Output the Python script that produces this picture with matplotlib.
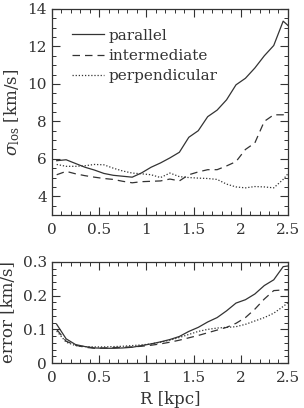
import matplotlib
matplotlib.use("Agg")
import matplotlib.pyplot as plt
from matplotlib.ticker import MultipleLocator

plt.rcParams['font.family'] = 'DejaVu Serif'
plt.rcParams['mathtext.fontset'] = 'dejavuserif'

# radius bins (kpc)
R = [0.05, 0.15, 0.25, 0.35, 0.45, 0.55, 0.65, 0.75, 0.85, 0.95,
     1.05, 1.15, 1.25, 1.35, 1.45, 1.55, 1.65, 1.75, 1.85, 1.95,
     2.05, 2.15, 2.25, 2.35, 2.45, 2.55]

# line-of-sight dispersion
sig_par = [5.9, 5.95, 5.75, 5.55, 5.4, 5.22, 5.12, 5.07, 5.02, 5.25,
           5.55, 5.78, 6.05, 6.35, 7.15, 7.5, 8.25, 8.6, 9.15, 9.95,
           10.3, 10.85, 11.5, 12.05, 13.35, 12.9]
sig_int = [5.15, 5.33, 5.2, 5.1, 5.02, 4.95, 4.9, 4.8, 4.72, 4.78,
           4.8, 4.82, 4.92, 4.82, 5.15, 5.3, 5.42, 5.42, 5.62, 5.85,
           6.5, 6.85, 8.0, 8.35, 8.35, 8.6]
sig_perp = [5.7, 5.6, 5.6, 5.63, 5.7, 5.68, 5.5, 5.35, 5.24, 5.2,
            5.15, 5.0, 5.24, 5.05, 5.0, 4.97, 4.95, 4.9, 4.65, 4.5,
            4.45, 4.52, 4.5, 4.45, 4.9, 5.5]

# errors
err_par = [0.115, 0.072, 0.055, 0.049, 0.045, 0.044, 0.044, 0.045, 0.047, 0.052,
           0.057, 0.063, 0.07, 0.079, 0.094, 0.106, 0.122, 0.135, 0.155, 0.178,
           0.188, 0.205, 0.23, 0.247, 0.286, 0.29]
err_int = [0.1, 0.065, 0.053, 0.047, 0.044, 0.045, 0.046, 0.047, 0.048, 0.05,
           0.053, 0.057, 0.062, 0.068, 0.075, 0.082, 0.09, 0.098, 0.106, 0.118,
           0.135, 0.16, 0.19, 0.215, 0.217, 0.217]
err_perp = [0.095, 0.062, 0.052, 0.049, 0.048, 0.048, 0.049, 0.05, 0.052, 0.054,
            0.057, 0.062, 0.068, 0.076, 0.085, 0.094, 0.1, 0.104, 0.106, 0.108,
            0.115, 0.125, 0.135, 0.148, 0.168, 0.19]

labels = ['parallel', 'intermediate', 'perpendicular']
styles = ['-', (0, (6, 4)), (0, (1, 1.5))]
col = '#333333'

fig = plt.figure(figsize=(3.04, 4.08), dpi=100)
ax1 = fig.add_axes([0.171, 0.473, 0.776, 0.505])
ax2 = fig.add_axes([0.171, 0.110, 0.776, 0.248])

for ys, ls, lab in zip([sig_par, sig_int, sig_perp], styles, labels):
    ax1.plot(R, ys, ls=ls, color=col, lw=0.9, label=lab)
for ys, ls in zip([err_par, err_int, err_perp], styles):
    ax2.plot(R, ys, ls=ls, color=col, lw=0.9)

ax1.set_xlim(0, 2.5)
ax1.set_ylim(3, 14)
ax2.set_xlim(0, 2.5)
ax2.set_ylim(0, 0.3)

ax1.set_xticks([0, 0.5, 1, 1.5, 2, 2.5])
ax1.set_xticklabels(['0', '0.5', '1', '1.5', '2', '2.5'])
ax2.set_xticks([0, 0.5, 1, 1.5, 2, 2.5])
ax2.set_xticklabels(['0', '0.5', '1', '1.5', '2', '2.5'])
ax1.set_yticks([4, 6, 8, 10, 12, 14])
ax2.set_yticks([0, 0.1, 0.2, 0.3])
ax2.set_yticklabels(['0', '0.1', '0.2', '0.3'])

ax1.xaxis.set_minor_locator(MultipleLocator(0.1))
ax2.xaxis.set_minor_locator(MultipleLocator(0.1))
ax1.yaxis.set_minor_locator(MultipleLocator(0.5))
ax2.yaxis.set_minor_locator(MultipleLocator(0.02))

for ax in [ax1, ax2]:
    ax.tick_params(which='both', direction='in', top=True, right=True,
                   colors=col, labelsize=11)
    ax.tick_params(which='major', length=6, width=0.8)
    ax.tick_params(which='minor', length=3, width=0.7)
    for s in ax.spines.values():
        s.set_color(col)
        s.set_linewidth(0.9)
    ax.tick_params(axis='x', pad=6)

ax1.set_ylabel(r'$\sigma_{\rm los}$ [km/s]', fontsize=12, color=col)
ax2.set_ylabel('error [km/s]', fontsize=12, color=col)
ax2.set_xlabel('R [kpc]', fontsize=12, color=col)
fig.align_ylabels([ax1, ax2])

ax1.legend(loc='upper left', frameon=False, fontsize=11, handlelength=2.1,
           handletextpad=0.3, labelspacing=0.4, borderaxespad=0.9,
           labelcolor=col)

fig.savefig('out.png', dpi=100)
